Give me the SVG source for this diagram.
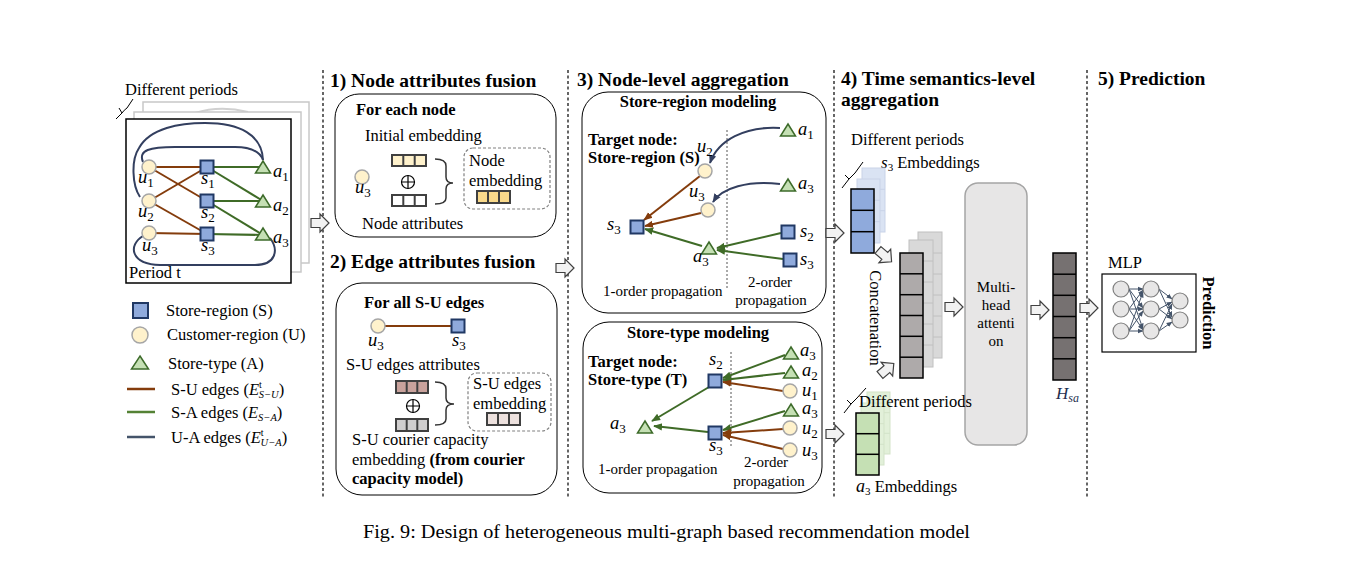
<svg xmlns="http://www.w3.org/2000/svg" xmlns:xlink="http://www.w3.org/1999/xlink" width="1358" height="565" viewBox="0 0 1358 565">
<style>
text{font-family:"Liberation Serif","Times New Roman",serif;fill:#000}
.h{font-size:19.5px;font-weight:bold}
.b{font-weight:bold}
.n{font-size:16.5px}
.s{font-size:15px}
.m{font-size:18.5px;font-style:italic}
.sub{font-size:13px;font-style:normal}
.sq{fill:#8faadc;stroke:#203864;stroke-width:2}
.ci{fill:#fff2cc;stroke:#a6a6a6;stroke-width:1.5}
.tr{fill:#c5e0b4;stroke:#3d6b2a;stroke-width:1.5}
.eb{stroke:#843c0c;stroke-width:2;fill:none}
.eg{stroke:#3f6b27;stroke-width:2;fill:none}
.eu{stroke:#333f5f;stroke-width:2;fill:none}
.dl{stroke:#000;stroke-width:1.2;stroke-dasharray:3 2.5;fill:none}
.rb{fill:#fff;stroke:#000;stroke-width:1}
.db{fill:#fff;stroke:#808080;stroke-width:1.2;stroke-dasharray:3 2}
.bar{stroke:#404040;stroke-width:2}
.cell{stroke:#000;stroke-width:1.5}
.bk{stroke:#c0c0c0;stroke-width:1}
.ha{fill:#f2f2f2;stroke:#404040;stroke-width:1.2}
.mc{fill:#e7e6e6;stroke:#808080;stroke-width:1.2}
.me{stroke:#44546a;stroke-width:1;fill:none}
</style>
<defs>
<rect id="sq" x="-6.5" y="-6.5" width="13" height="13" class="sq"/>
<circle id="ci" r="7" class="ci"/>
<path id="tri" d="M0,-7 L7.5,5 L-7.5,5 Z" class="tr"/>
<path id="ha" d="M0,-4.5 H9 V-9 L18,0 L9,9 V4.5 H0 Z" class="ha"/>
<marker id="mb" viewBox="0 0 10 10" refX="9" refY="5" markerWidth="9" markerHeight="9" orient="auto" markerUnits="userSpaceOnUse"><path d="M0,1 L10,5 L0,9 Z" fill="#843c0c"/></marker>
<marker id="mg" viewBox="0 0 10 10" refX="9" refY="5" markerWidth="9" markerHeight="9" orient="auto" markerUnits="userSpaceOnUse"><path d="M0,1 L10,5 L0,9 Z" fill="#3f6b27"/></marker>
<marker id="mu" viewBox="0 0 10 10" refX="9" refY="5" markerWidth="9" markerHeight="9" orient="auto" markerUnits="userSpaceOnUse"><path d="M0,1 L10,5 L0,9 Z" fill="#333f5f"/></marker>
<marker id="mm" viewBox="0 0 10 10" refX="9" refY="5" markerWidth="6" markerHeight="6" orient="auto" markerUnits="userSpaceOnUse"><path d="M0,1 L10,5 L0,9 Z" fill="#44546a"/></marker>
</defs>
<rect width="1358" height="565" fill="#fff"/>

<g id="separators">
<line class="dl" x1="323" y1="70" x2="323" y2="498"/>
<line class="dl" x1="568" y1="70" x2="568" y2="498"/>
<line class="dl" x1="834" y1="70" x2="834" y2="498"/>
<line class="dl" x1="1087" y1="70" x2="1087" y2="498"/>
</g>

<g id="periods">
<text x="125" y="95" class="n">Different periods</text>
<path d="M116,119 L122,113 L119,108 M122,113 Q124,110 127,108 L133,99" fill="none" stroke="#000" stroke-width="1"/>
<rect x="143" y="102" width="166" height="161" fill="#fff" stroke="#c8c8c8" stroke-width="1.5"/>
<path d="M195,113 Q220,105 248,112" fill="none" stroke="#d0d0d0" stroke-width="2"/>
<rect x="134" y="112" width="167" height="160" fill="#fff" stroke="#c8c8c8" stroke-width="1.5"/>
<rect x="126" y="119" width="165" height="164" fill="#fff" stroke="#000" stroke-width="1.5"/>
<text x="129" y="278" class="n">Period t</text>
</g>
<g id="graph-edges">
<path class="eu" d="M140,197 C132,185 131,160 139,148 C150,128 180,123 205,123 C240,123 262,135 263,160"/>
<path class="eu" d="M143,162 C138,150 150,147 175,147 L235,147 C252,147 260,152 263,160"/>
<path class="eu" d="M143,236 C128,245 130,264 160,265 L255,265 C276,265 279,250 270,238"/>
<line class="eb" x1="149" y1="167" x2="207" y2="167"/>
<line class="eb" x1="149" y1="167" x2="207" y2="201"/>
<line class="eb" x1="149" y1="201" x2="207" y2="167"/>
<line class="eb" x1="149" y1="201" x2="207" y2="234"/>
<line class="eb" x1="149" y1="233" x2="207" y2="234"/>
<line class="eg" x1="207" y1="167" x2="263" y2="167"/>
<line class="eg" x1="207" y1="167" x2="263" y2="201"/>
<line class="eg" x1="207" y1="201" x2="263" y2="201"/>
<line class="eg" x1="207" y1="201" x2="263" y2="235"/>
<line class="eg" x1="207" y1="234" x2="263" y2="235"/>
</g>
<g id="graph-nodes">
<use href="#ci" x="149" y="167"/><use href="#ci" x="149" y="201"/><use href="#ci" x="149" y="233"/>
<use href="#sq" x="207" y="167"/><use href="#sq" x="207" y="201"/><use href="#sq" x="207" y="234"/>
<use href="#tri" x="263" y="168"/><use href="#tri" x="263" y="202"/><use href="#tri" x="263" y="235"/>
<text x="138" y="183" class="m">u<tspan class="sub" dy="4">1</tspan></text>
<text x="138" y="217" class="m">u<tspan class="sub" dy="4">2</tspan></text>
<text x="142" y="251" class="m">u<tspan class="sub" dy="4">3</tspan></text>
<text x="201" y="184" class="m">s<tspan class="sub" dy="4">1</tspan></text>
<text x="201" y="218" class="m">s<tspan class="sub" dy="4">2</tspan></text>
<text x="201" y="251" class="m">s<tspan class="sub" dy="4">3</tspan></text>
<text x="273" y="177" class="m">a<tspan class="sub" dy="4">1</tspan></text>
<text x="273" y="211" class="m">a<tspan class="sub" dy="4">2</tspan></text>
<text x="273" y="243" class="m">a<tspan class="sub" dy="4">3</tspan></text>
</g>

<g id="legend">
<rect x="133" y="303" width="15" height="15" class="sq"/>
<circle cx="140" cy="335" r="8" class="ci"/>
<path d="M140,356 L148.5,369 L131.5,369 Z" class="tr"/>
<line x1="127" y1="389" x2="155" y2="389" stroke="#843c0c" stroke-width="2.5"/>
<line x1="127" y1="412" x2="155" y2="412" stroke="#548235" stroke-width="2.5"/>
<line x1="127" y1="437" x2="155" y2="437" stroke="#44546a" stroke-width="2.5"/>
<text x="166" y="316" class="n">Store-region (S)</text>
<text x="167" y="340" class="n">Customer-region (U)</text>
<text x="168" y="369" class="n">Store-type (A)</text>
<text x="171" y="395" class="n">S-U edges (<tspan font-style="italic">E</tspan><tspan font-size="10" dy="-7">t</tspan><tspan font-size="10.5" font-style="italic" dx="-3" dy="10">S−U</tspan><tspan dy="-3">)</tspan></text>
<text x="171" y="418" class="n">S-A edges (<tspan font-style="italic">E</tspan><tspan font-size="10.5" font-style="italic" dy="3">S−A</tspan><tspan dy="-3">)</tspan></text>
<text x="171" y="443" class="n">U-A edges (<tspan font-style="italic">E</tspan><tspan font-size="10" dy="-7">t</tspan><tspan font-size="10.5" font-style="italic" dx="-3" dy="10">U−A</tspan><tspan dy="-3">)</tspan></text>
</g>

<g id="node-fusion">
<text x="330" y="87" class="h">1) Node attributes fusion</text>
<rect x="335" y="94" width="221" height="143" rx="24" class="rb"/>
<text x="356" y="115" class="n b">For each node</text>
<text x="365" y="141" class="n">Initial embedding</text>
<circle cx="362" cy="177" r="7" class="ci"/>
<text x="355" y="193" class="m">u<tspan class="sub" dy="4">3</tspan></text>
<g class="bar"><rect x="392" y="155" width="34" height="11" fill="#fff2cc"/><line x1="403.3" y1="155" x2="403.3" y2="166"/><line x1="414.7" y1="155" x2="414.7" y2="166"/></g>
<circle cx="408" cy="182" r="6.5" fill="none" stroke="#000" stroke-width="1.2"/>
<path d="M401.5,182 H414.5 M408,175.5 V188.5" stroke="#000" stroke-width="1.2"/>
<g class="bar"><rect x="392" y="195" width="34" height="11" fill="#fff"/><line x1="403.3" y1="195" x2="403.3" y2="206"/><line x1="414.7" y1="195" x2="414.7" y2="206"/></g>
<path d="M435,159 Q446,159 446,166 L446,177 Q446,183 453,183 Q446,183 446,189 L446,198 Q446,204 435,204" fill="none" stroke="#333" stroke-width="1.5"/>
<rect x="464" y="148" width="86" height="61" rx="9" class="db"/>
<text x="469" y="166" class="n">Node</text>
<text x="469" y="186" class="n">embedding</text>
<g class="bar"><rect x="477" y="191" width="33" height="12" fill="#f9d98b"/><line x1="488" y1="191" x2="488" y2="203"/><line x1="499" y1="191" x2="499" y2="203"/></g>
<text x="362" y="229" class="n">Node attributes</text>
</g>

<g id="edge-fusion">
<text x="330" y="268" class="h">2) Edge attributes fusion</text>
<rect x="336" y="283" width="221" height="212" rx="26" class="rb"/>
<text x="364" y="308" class="n b">For all S-U edges</text>
<line x1="378" y1="326" x2="458" y2="326" stroke="#843c0c" stroke-width="1.8"/>
<circle cx="378" cy="326" r="7" class="ci"/>
<use href="#sq" x="458" y="326"/>
<text x="368" y="346" class="m">u<tspan class="sub" dy="4">3</tspan></text>
<text x="452" y="346" class="m">s<tspan class="sub" dy="4">3</tspan></text>
<text x="346" y="370" class="n">S-U edges attributes</text>
<g class="bar"><rect x="396" y="381" width="32" height="12" fill="#c9a29c"/><line x1="406.7" y1="381" x2="406.7" y2="393"/><line x1="417.3" y1="381" x2="417.3" y2="393"/></g>
<circle cx="413" cy="406" r="6.5" fill="none" stroke="#000" stroke-width="1.2"/>
<path d="M406.5,406 H419.5 M413,399.5 V412.5" stroke="#000" stroke-width="1.2"/>
<g class="bar"><rect x="396" y="419" width="32" height="12" fill="#d0cece"/><line x1="406.7" y1="419" x2="406.7" y2="431"/><line x1="417.3" y1="419" x2="417.3" y2="431"/></g>
<path d="M435,382 Q446,382 446,389 L446,398 Q446,404 454,404 Q446,404 446,410 L446,419 Q446,425 435,425" fill="none" stroke="#333" stroke-width="1.5"/>
<rect x="468" y="373" width="83" height="58" rx="9" class="db"/>
<text x="473" y="389" class="n">S-U edges</text>
<text x="473" y="409" class="n">embedding</text>
<g class="bar"><rect x="487" y="413" width="33" height="12" fill="#ede1de"/><line x1="498" y1="413" x2="498" y2="425"/><line x1="509" y1="413" x2="509" y2="425"/></g>
<text x="352" y="445" class="n">S-U courier capacity</text>
<text x="352" y="465" class="n">embedding <tspan class="b">(from courier</tspan></text>
<text x="352" y="484" class="n b">capacity model)</text>
</g>

<g id="store-region-modeling">
<text x="577" y="86" class="h">3) Node-level aggregation</text>
<rect x="582" y="92" width="244" height="221" rx="26" class="rb"/>
<text x="698" y="107" class="n b" text-anchor="middle">Store-region modeling</text>
<text x="588" y="145" class="n b">Target node:</text>
<text x="588" y="163" class="n b">Store-region (S)</text>
<line x1="727" y1="130" x2="727" y2="290" stroke="#555" stroke-width="1" stroke-dasharray="2 2"/>
<path class="eb" d="M700,176 L644,220" marker-end="url(#mb)"/>
<path class="eb" d="M701,213 L645,226" marker-end="url(#mb)"/>
<path class="eg" d="M702,246 L645,229" marker-end="url(#mg)"/>
<path class="eg" d="M781,233 L717,248" marker-end="url(#mg)"/>
<path class="eg" d="M783,259 L717,250" marker-end="url(#mg)"/>
<path class="eu" d="M780,128 C745,126 718,140 710,163" marker-end="url(#mu)"/>
<path class="eu" d="M780,184 C748,180 722,188 713,202" marker-end="url(#mu)"/>
<use href="#ci" x="705" y="171"/>
<use href="#ci" x="708" y="210"/>
<use href="#sq" x="637" y="227"/>
<use href="#tri" x="709" y="249"/>
<use href="#tri" x="788" y="131"/>
<use href="#tri" x="788" y="186"/>
<use href="#sq" x="788" y="232"/>
<use href="#sq" x="790" y="260"/>
<text x="697" y="152" class="m">u<tspan class="sub" dy="4">2</tspan></text>
<text x="689" y="197" class="m">u<tspan class="sub" dy="4">3</tspan></text>
<text x="607" y="230" class="m">s<tspan class="sub" dy="4">3</tspan></text>
<text x="693" y="262" class="m">a<tspan class="sub" dy="4">3</tspan></text>
<text x="798" y="135" class="m">a<tspan class="sub" dy="4">1</tspan></text>
<text x="798" y="189" class="m">a<tspan class="sub" dy="4">3</tspan></text>
<text x="800" y="237" class="m">s<tspan class="sub" dy="4">2</tspan></text>
<text x="800" y="265" class="m">s<tspan class="sub" dy="4">3</tspan></text>
<text x="603" y="296" class="s">1-order propagation</text>
<text x="770" y="287" class="s" text-anchor="middle">2-order</text>
<text x="771" y="305" class="s" text-anchor="middle">propagation</text>
</g>

<g id="store-type-modeling">
<rect x="583" y="322" width="239" height="171" rx="26" class="rb"/>
<text x="698" y="338" class="n b" text-anchor="middle">Store-type modeling</text>
<text x="588" y="367" class="n b">Target node:</text>
<text x="588" y="385" class="n b">Store-type (T)</text>
<line x1="731" y1="352" x2="731" y2="447" stroke="#555" stroke-width="1" stroke-dasharray="2 2"/>
<path class="eg" d="M709,387 L652,421" marker-end="url(#mg)"/>
<path class="eg" d="M708,432 L654,426" marker-end="url(#mg)"/>
<path class="eg" d="M785,355 L723,378" marker-end="url(#mg)"/>
<path class="eg" d="M785,373 L723,380" marker-end="url(#mg)"/>
<path class="eb" d="M783,391 L723,382" marker-end="url(#mb)"/>
<path class="eg" d="M785,411 L723,430" marker-end="url(#mg)"/>
<path class="eb" d="M783,429 L723,433" marker-end="url(#mb)"/>
<path class="eb" d="M783,449 L723,435" marker-end="url(#mb)"/>
<use href="#sq" x="715" y="381"/>
<use href="#sq" x="715" y="433"/>
<use href="#tri" x="645" y="428"/>
<use href="#tri" x="791" y="354"/>
<use href="#tri" x="791" y="373"/>
<use href="#ci" x="790" y="391"/>
<use href="#tri" x="791" y="411"/>
<use href="#ci" x="790" y="428"/>
<use href="#ci" x="790" y="450"/>
<text x="709" y="365" class="m">s<tspan class="sub" dy="4">2</tspan></text>
<text x="709" y="451" class="m">s<tspan class="sub" dy="4">3</tspan></text>
<text x="610" y="429" class="m">a<tspan class="sub" dy="4">3</tspan></text>
<text x="800" y="356" class="m">a<tspan class="sub" dy="4">3</tspan></text>
<text x="802" y="376" class="m">a<tspan class="sub" dy="4">2</tspan></text>
<text x="802" y="396" class="m">u<tspan class="sub" dy="4">1</tspan></text>
<text x="802" y="414" class="m">a<tspan class="sub" dy="4">3</tspan></text>
<text x="802" y="434" class="m">u<tspan class="sub" dy="4">2</tspan></text>
<text x="802" y="456" class="m">u<tspan class="sub" dy="4">3</tspan></text>
<text x="598" y="474" class="s">1-order propagation</text>
<text x="766" y="467" class="s" text-anchor="middle">2-order</text>
<text x="769" y="486" class="s" text-anchor="middle">propagation</text>
</g>

<g id="multi-head-attention">
<rect x="965" y="183" width="62" height="262" rx="13" fill="#e7e6e6" stroke="#a5a5a5" stroke-width="1.5"/>
<text x="996" y="292" class="s" text-anchor="middle">Multi-</text>
<text x="996" y="310" class="s" text-anchor="middle">head</text>
<text x="996" y="328" class="s" text-anchor="middle">attenti</text>
<text x="996" y="346" class="s" text-anchor="middle">on</text>
</g>

<g id="time-aggregation">
<text x="841" y="85" class="h">4) Time semantics-level</text>
<text x="841" y="106" class="h">aggregation</text>
<text x="851" y="145" class="n">Different periods</text>
<text x="881" y="168" class="n"><tspan font-style="italic" font-size="17">s</tspan><tspan font-size="11" dy="3">3</tspan><tspan dy="-3"> Embeddings</tspan></text>
<path d="M842,188 L849,179 L845,175 M849,179 Q852,176 855,173 L863,162" fill="none" stroke="#000" stroke-width="1"/>
</g>
<g id="s3-embeddings">
<g fill="#dae3f3" stroke="#c9d3e8" stroke-width="1">
<rect x="862" y="168" width="23" height="64"/><line x1="862" y1="189.3" x2="885" y2="189.3"/><line x1="862" y1="210.7" x2="885" y2="210.7"/>
<rect x="857" y="179" width="23" height="64"/><line x1="857" y1="200.3" x2="880" y2="200.3"/><line x1="857" y1="221.7" x2="880" y2="221.7"/>
</g>
<g class="cell" fill="#8faadc">
<rect x="851" y="189" width="23" height="64"/><line x1="851" y1="210.3" x2="874" y2="210.3"/><line x1="851" y1="231.7" x2="874" y2="231.7"/>
</g>
</g>
<g id="concatenation">
<g fill="#d9d9d9" class="bk">
<rect x="918" y="232" width="24" height="126"/><line x1="918" y1="253" x2="942" y2="253"/><line x1="918" y1="274" x2="942" y2="274"/><line x1="918" y1="295" x2="942" y2="295"/><line x1="918" y1="316" x2="942" y2="316"/><line x1="918" y1="337" x2="942" y2="337"/>
<rect x="909" y="240" width="24" height="127"/><line x1="909" y1="261" x2="933" y2="261"/><line x1="909" y1="282" x2="933" y2="282"/><line x1="909" y1="303" x2="933" y2="303"/><line x1="909" y1="324" x2="933" y2="324"/><line x1="909" y1="345" x2="933" y2="345"/>
</g>
<g class="cell" fill="#aeaaaa">
<rect x="900" y="253" width="23" height="125"/><line x1="900" y1="273.8" x2="923" y2="273.8"/><line x1="900" y1="294.7" x2="923" y2="294.7"/><line x1="900" y1="315.5" x2="923" y2="315.5"/><line x1="900" y1="336.3" x2="923" y2="336.3"/><line x1="900" y1="357.2" x2="923" y2="357.2"/>
</g>
<text transform="translate(870,318) rotate(90)" class="n" text-anchor="middle">Concatenation</text>
</g>
<g id="a3-embeddings">
<g fill="#e2f0d9" stroke="#d3e3c8" stroke-width="1">
<rect x="867" y="392" width="23" height="62"/><line x1="867" y1="412.7" x2="890" y2="412.7"/><line x1="867" y1="433.3" x2="890" y2="433.3"/>
<rect x="861" y="403" width="23" height="62"/><line x1="861" y1="423.7" x2="884" y2="423.7"/><line x1="861" y1="444.3" x2="884" y2="444.3"/>
</g>
<path d="M844,413 L851,404 L847,400 M851,404 Q854,401 857,398 L866,388" fill="none" stroke="#000" stroke-width="1"/>
<text x="859" y="407" class="n">Different periods</text>
<g class="cell" fill="#c5e0b4">
<rect x="856" y="413" width="23" height="62"/><line x1="856" y1="433.7" x2="879" y2="433.7"/><line x1="856" y1="454.3" x2="879" y2="454.3"/>
</g>
<text x="856" y="492" class="n"><tspan font-style="italic" font-size="18">a</tspan><tspan font-size="11" dy="3">3</tspan><tspan dy="-3"> Embeddings</tspan></text>
</g>
<g id="hsa">
<g class="cell" fill="#767171">
<rect x="1053" y="253" width="23" height="127"/><line x1="1053" y1="274.2" x2="1076" y2="274.2"/><line x1="1053" y1="295.3" x2="1076" y2="295.3"/><line x1="1053" y1="316.5" x2="1076" y2="316.5"/><line x1="1053" y1="337.7" x2="1076" y2="337.7"/><line x1="1053" y1="358.8" x2="1076" y2="358.8"/>
</g>
<text x="1056" y="399" style="fill:#1f2f4f" font-style="italic" font-size="17">H<tspan font-size="12" dy="3" style="fill:#1f2f4f">sa</tspan></text>
</g>

<g id="prediction">
<text x="1098" y="85" class="h">5) Prediction</text>
<text x="1108" y="268" class="n">MLP</text>
<rect x="1102" y="274" width="94" height="78" fill="#fff" stroke="#000" stroke-width="1.2"/>
<g class="me">
<path d="M1129,289 L1143,289" marker-end="url(#mm)"/>
<path d="M1129,289 L1143,308" marker-end="url(#mm)"/>
<path d="M1129,289 L1143,329" marker-end="url(#mm)"/>
<path d="M1129,309 L1143,290" marker-end="url(#mm)"/>
<path d="M1129,309 L1143,309" marker-end="url(#mm)"/>
<path d="M1129,309 L1143,330" marker-end="url(#mm)"/>
<path d="M1129,331 L1143,292" marker-end="url(#mm)"/>
<path d="M1129,331 L1143,311" marker-end="url(#mm)"/>
<path d="M1129,331 L1143,331" marker-end="url(#mm)"/>
<path d="M1159,289 L1172,299" marker-end="url(#mm)"/>
<path d="M1159,289 L1172,317" marker-end="url(#mm)"/>
<path d="M1159,309 L1172,302" marker-end="url(#mm)"/>
<path d="M1159,309 L1172,319" marker-end="url(#mm)"/>
<path d="M1159,331 L1172,304" marker-end="url(#mm)"/>
<path d="M1159,331 L1172,322" marker-end="url(#mm)"/>
</g>
<circle cx="1121" cy="289" r="8" class="mc"/><circle cx="1121" cy="309" r="8" class="mc"/><circle cx="1121" cy="331" r="8" class="mc"/>
<circle cx="1151" cy="289" r="8" class="mc"/><circle cx="1151" cy="309" r="8" class="mc"/><circle cx="1151" cy="331" r="8" class="mc"/>
<circle cx="1180" cy="301" r="8" class="mc"/><circle cx="1180" cy="320" r="8" class="mc"/>
<text transform="translate(1203,313) rotate(90)" class="n b" text-anchor="middle">Prediction</text>
</g>

<g id="connectors">
<use href="#ha" transform="translate(311,223)"/>
<use href="#ha" transform="translate(556,268)"/>
<use href="#ha" transform="translate(826,233)"/>
<use href="#ha" transform="translate(826,434)"/>
<use href="#ha" transform="translate(878,250) rotate(41)"/>
<use href="#ha" transform="translate(880,375) rotate(-40)"/>
<use href="#ha" transform="translate(945,307)"/>
<use href="#ha" transform="translate(1031,310)"/>
<use href="#ha" transform="translate(1080,308)"/>
</g>

<text x="363" y="538" font-size="18.5" textLength="607" lengthAdjust="spacingAndGlyphs">Fig. 9: Design of heterogeneous multi-graph based recommendation model</text>
</svg>
